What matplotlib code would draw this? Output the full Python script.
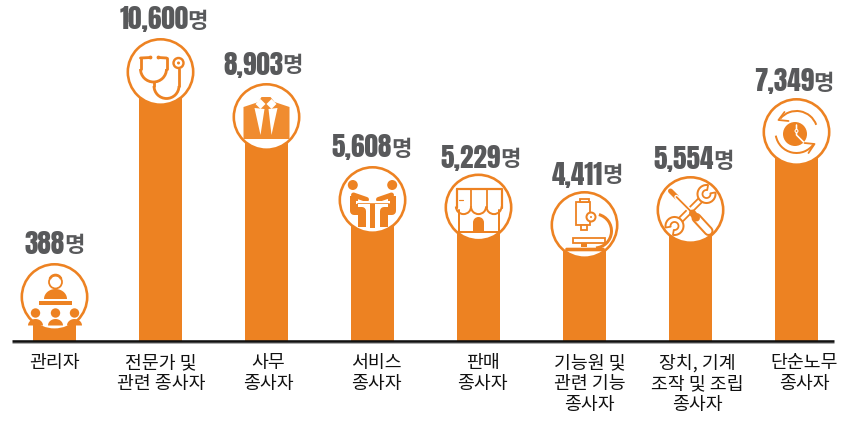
# -*- coding: utf-8 -*-
"""
Workers by occupation: bars topped with round icons
"""

import numpy as np
import matplotlib
matplotlib.use('Agg')
import matplotlib.pyplot as plt
from matplotlib.patches import Circle, Polygon, Rectangle, Arc, FancyBboxPatch

# ============================================
# Data
# ============================================

categories = ['관리자', '전문가 및\n관련 종사자', '사무\n종사자', '서비스\n종사자', '판매\n종사자',
              '기능원 및\n관련 기능\n종사자', '장치, 기계\n조작 및 조립\n종사자', '단순노무\n종사자']
value_labels = ['388', '10,600', '8,903', '5,608', '5,229', '4,411', '5,554', '7,349']
# bar heights as drawn in the picture (not proportional to the printed numbers)
drawn_heights = [44, 269, 224, 141, 133.5, 116, 131, 209]

unit = '명'
ORANGE = '#ED8222'
GREY = '#58595B'
bar_x = 54.5 + 106 * np.arange(len(categories))
# where number ends / label height above icon centre
split_dx = [12, 29.5, 18, 21, 24, 20, 25, 19]
label_dy = [54, 54, 54, 54, 51, 52, 52, 52]
# category labels drift right of their bars in the reference
cat_dx = [0, 0.5, 2, 3.7, 4, 5, 7, 7.5]

NUM_FONT = ['Anton', 'Liberation Sans', 'Noto Sans CJK KR']
KR_FONT = ['Noto Sans CJK KR', 'DejaVu Sans']

fig = plt.figure(figsize=(8.55, 4.22), dpi=100)
ax = fig.add_axes([0, 0, 1, 1])
ax.set_xlim(0, 855)
ax.set_ylim(-81, 341)
ax.set_aspect('equal')
ax.axis('off')

LW = 0.72  # 1 px in points


def line(cx, cy, pts, w=2.0, color=ORANGE, z=5, cap='round'):
    pts = np.array(pts, dtype=float)
    ax.plot(cx + pts[:, 0], cy + pts[:, 1], color=color, lw=w * LW, zorder=z,
            solid_capstyle=cap, solid_joinstyle='round')


def poly(cx, cy, pts, color=ORANGE, z=5):
    pts = np.array(pts, dtype=float) + [cx, cy]
    ax.add_patch(Polygon(pts, closed=True, fc=color, ec='none', zorder=z))


def disc(cx, cy, dx, dy, r, fc=ORANGE, ec='none', w=0, z=5):
    ax.add_patch(Circle((cx + dx, cy + dy), r, fc=fc, ec=ec, lw=w * LW, zorder=z))


def arc(cx, cy, dx, dy, r, t1, t2, w=2.0, color=ORANGE, z=5):
    ax.add_patch(Arc((cx + dx, cy + dy), 2 * r, 2 * r, theta1=t1, theta2=t2,
                     color=color, lw=w * LW, zorder=z))


def rect(cx, cy, x0, y0, x1, y1, fc=ORANGE, ec='none', w=0, z=5):
    ax.add_patch(Rectangle((cx + x0, cy + y0), x1 - x0, y1 - y0, fc=fc, ec=ec, lw=w * LW, zorder=z))


def dome(cx, cy, dx, y0, half_w, h, z=5):
    t = np.linspace(0, np.pi, 30)
    poly(cx, cy, np.c_[dx + half_w * np.cos(t), y0 + h * np.sin(t)], z=z)


# ============================================
# Icons
# ============================================

def icon_presenter(cx, cy):
    disc(cx, cy, 1, 15, 6.5, fc='white', ec=ORANGE, w=1.8)
    arc(cx, cy, 1, 16, 6, 20, 160, w=2.6)
    dome(cx, cy, 1, -2, 11.5, 10)
    rect(cx, cy, -16, -7.5, 17, -3.5)
    for dx in [-19, 1, 20]:
        disc(cx, cy, dx, -16, 4.7)
        dome(cx, cy, dx, -28.5, 7.5, 6.5)


def icon_stethoscope(cx, cy):
    line(cx, cy, [(-20, 14), (-20, 3)], w=2.8)
    line(cx, cy, [(-20, 14), (-10, 14.5)], w=2.8)
    line(cx, cy, [(6, 3), (6, 14)], w=2.8)
    line(cx, cy, [(6, 14), (-2, 14.5)], w=2.8)
    arc(cx, cy, -7, 3, 13, 180, 360, w=2.8)
    disc(cx, cy, -10, 14.5, 1.9)
    disc(cx, cy, -2, 14.5, 1.9)
    line(cx, cy, [(-7, -10), (-7, -14)], w=2.8)
    arc(cx, cy, 6, -14, 12.5, 180, 360, w=2.8)
    line(cx, cy, [(18.5, -14), (18.5, 3)], w=2.8)
    disc(cx, cy, 18, 9, 5, fc='white', ec=ORANGE, w=2.4)
    disc(cx, cy, 18, 9, 1.5)


def icon_suit(cx, cy):
    poly(cx, cy, [(-23, 10), (-8, 15), (-5, 20), (4, 20), (8, 15), (23, 10), (23, -22), (-23, -22)], color='#F08C30')
    for dx in [-6, 5]:
        poly(cx, cy, [(dx - 5, 13), (dx, 18), (dx + 5, 13), (dx, 8)], color='white', z=6)
    poly(cx, cy, [(-12, 9), (-2, 8), (-6, -18)], color='white', z=6)
    poly(cx, cy, [(2, 8), (11, 9), (5, -18)], color='white', z=6)


def icon_meeting(cx, cy):
    for s in [-1, 1]:
        disc(cx, cy, s * 19.7, 15, 5)
        line(cx, cy, [(s * 19, 4), (s * 19, -11), (s * 11, -11), (s * 11, -27)], w=8, cap='butt')
        line(cx, cy, [(s * 19, 5), (s * 6, 0.5)], w=5)
    rect(cx, cy, -2.7, -28, 2.7, -1)
    rect(cx, cy, -17, -3.8, 17, -1.2, fc='white', z=6)
    line(cx, cy, [(-16, -2.5), (16, -2.5)], w=0.8, z=7)


def icon_store(cx, cy):
    top = 19
    line(cx, cy, [(-22, top), (23, top), (23, 0)], w=2.2)
    line(cx, cy, [(-22, top), (-22, 0)], w=2.2)
    for dx in [-7.5, 8]:
        line(cx, cy, [(dx, top), (dx, 0)], w=1.8)
    for dx in [-15, 0, 15.5]:
        arc(cx, cy, dx, 1, 7.6, 180, 360, w=2)
    line(cx, cy, [(-20, 7.5), (-16, 7.5)], w=1.2)
    line(cx, cy, [(-19.5, -2), (-19.5, -24), (20.5, -24), (20.5, -2)], w=2)
    rect(cx, cy, -5.5, -24, 5.5, -15)
    disc(cx, cy, 0, -15, 5.5)


def icon_microscope(cx, cy):
    rect(cx, cy, -8.5, -0, 5.5, 23, fc='white', ec=ORANGE, w=1.8)
    rect(cx, cy, -4.5, 23, 4, 26.5, fc='white', ec=ORANGE, w=1.8)
    rect(cx, cy, -4, -5, 2.5, 0, fc='white', ec=ORANGE, w=1.8)
    arc(cx, cy, 10, -6, 17, -85, 75, w=3)
    disc(cx, cy, 6.5, 8, 4.5, fc='white', ec=ORANGE, w=2)
    disc(cx, cy, 6.5, 8, 1)
    rect(cx, cy, -12, -18, 20, -13, fc='white', ec=ORANGE, w=1.8)
    rect(cx, cy, -4, -22, 2, -18)
    ax.add_patch(FancyBboxPatch((cx - 19, cy - 26), 39, 3, boxstyle='round,pad=0.3,rounding_size=1.5',
                                fc=ORANGE, ec='none', zorder=5))


def icon_tools(cx, cy):
    # wrench handle outline
    line(cx, cy, [(-13, -13), (13, 13)], w=7)
    line(cx, cy, [(-13, -13), (13, 13)], w=3.4, color='white', z=6)
    # wrench heads, jaws open toward the ends
    for x, y, a in [(16, 16, 45), (-16, -16, 225)]:
        disc(cx, cy, x, y, 8.5, fc='white', z=6)
        arc(cx, cy, x, y, 9, a + 35, a + 325, w=2, z=7)
        arc(cx, cy, x, y, 4, a + 35, a + 325, w=1.8, z=7)
        for t in [a + 35, a - 35]:
            r = np.radians(t)
            line(cx, cy, [(x + 4 * np.cos(r), y + 4 * np.sin(r)), (x + 9 * np.cos(r), y + 9 * np.sin(r))], w=1.8, z=7)
    # screwdriver over it
    line(cx, cy, [(-20, 19), (-14, 13)], w=5, z=8)
    line(cx, cy, [(-14, 13), (2, -3)], w=4.5, color='white', z=8)
    line(cx, cy, [(-14, 13), (2, -3)], w=1.8, z=9)
    line(cx, cy, [(6, -8), (18, -21)], w=10, z=8)
    line(cx, cy, [(7, -9), (18, -21)], w=6, color='white', z=9)
    line(cx, cy, [(2, -3), (6, -8)], w=7, z=9)


def icon_clock(cx, cy):
    disc(cx, cy, -1.5, -2, 12)
    line(cx, cy, [(0, 7), (0, -3), (7, -10)], w=1.6, color='white', z=6)
    disc(cx, cy, 0, 1, 2, fc='white', z=6)
    disc(cx, cy, 0, 1, 0.9, z=7)
    arc(cx, cy, 0, 0, 21, 20, 140)
    arc(cx, cy, 0, 0, 21, 190, 325)
    line(cx, cy, [(-12, 20), (-18, 12), (-8, 11)], w=1.8)
    line(cx, cy, [(12, -21), (18, -12), (8, -11)], w=1.8)


icons = [icon_presenter, icon_stethoscope, icon_suit, icon_meeting,
         icon_store, icon_microscope, icon_tools, icon_clock]

# ============================================
# Chart
# ============================================

ax.bar(bar_x, drawn_heights, width=43, color=ORANGE, zorder=2)
ax.plot([12, 834], [0, 0], color='#111111', lw=2.6 * LW, zorder=3, solid_capstyle='butt')
ax.plot([12, 834], [-1.6, -1.6], color='#9a9a9a', lw=0.8 * LW, zorder=3, solid_capstyle='butt')

for i, x in enumerate(bar_x):
    h = drawn_heights[i]
    disc(x, h, 0, 0, 32.7, fc='white', ec=ORANGE, w=2.6, z=4)
    icons[i](x, h)

    ax.text(x + split_dx[i] - 1.5, h + label_dy[i], value_labels[i], family=NUM_FONT,
            fontsize=19.5, color=GREY, ha='right', va='center_baseline', zorder=10)
    ax.text(x + split_dx[i] - 2.5, h + label_dy[i] - 0.5, unit, family=KR_FONT, weight='bold',
            fontsize=16, color=GREY, ha='left', va='center_baseline', zorder=10)
    ax.text(x + cat_dx[i], -13, categories[i], family=KR_FONT, fontsize=13.2, color='#111111',
            ha='center', va='top', linespacing=1.2, zorder=10)

plt.savefig('out.png', dpi=100)
